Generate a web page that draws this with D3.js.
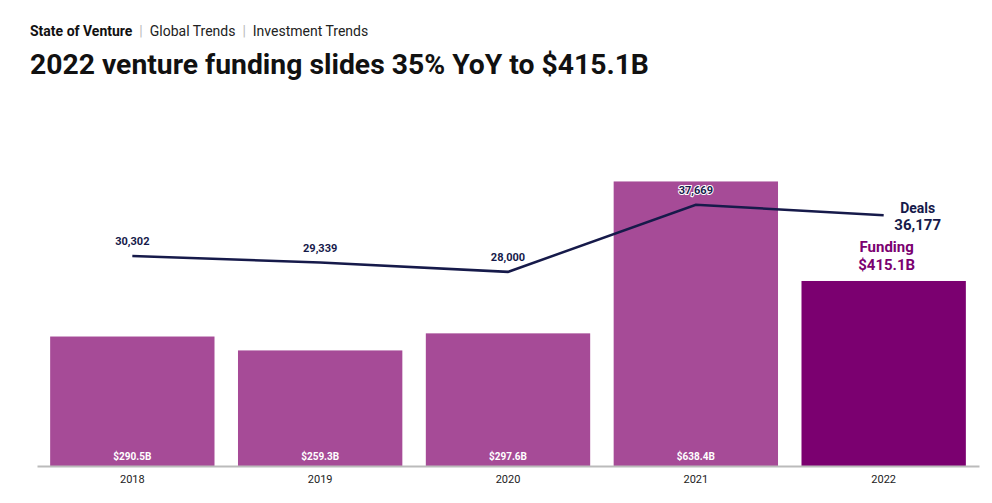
<!DOCTYPE html>
<html>
<head>
<meta charset="utf-8">
<script src="https://cdn.jsdelivr.net/npm/d3@7"></script>
<style>
  body { margin: 0; background: #fff; }
  svg text { font-family: Roboto, "Noto Sans", sans-serif; }
</style>
</head>
<body>
<div id="chart"></div>
<script>
var years = ["2018", "2019", "2020", "2021", "2022"];
var funding = [290.5, 259.3, 297.6, 638.4, 415.1];
var fundingLabels = ["$290.5B", "$259.3B", "$297.6B", "$638.4B", "$415.1B"];
var deals = [30302, 29339, 28000, 37669, 36177];

var width = 992, height = 503;
var svg = d3.select("#chart").append("svg")
    .attr("width", width).attr("height", height);

// header
var head = svg.append("text").attr("x", 30).attr("y", 36)
    .style("font-size", "14px").style("white-space", "pre").attr("fill", "#222");
head.append("tspan").attr("font-weight", "bold").attr("fill", "#111").text("State of Venture");
head.append("tspan").attr("fill", "#bbb").text("  |  ");
head.append("tspan").text("Global Trends");
head.append("tspan").attr("fill", "#bbb").text("  |  ");
head.append("tspan").text("Investment Trends");

svg.append("text").attr("x", 30).attr("y", 74)
    .style("font-size", "28.3px").attr("font-weight", "bold").attr("fill", "#111")
    .text("2022 venture funding slides 35% YoY to $415.1B");

var baseY = 466, topY = 154;
var x = d3.scaleBand().domain(years).range([37, 979]).paddingInner(0.125).paddingOuter(0.07);
var y = d3.scaleLinear().domain([0, 700]).range([baseY, topY]);
var y2 = d3.scaleLinear().domain([0, 45000]).range([baseY, topY]);

var data = years.map(function(d, i) {
  return {year: d, f: funding[i], fl: fundingLabels[i], n: deals[i]};
});

svg.selectAll("rect.bar").data(data).enter().append("rect")
    .attr("class", "bar")
    .attr("x", function(d) { return x(d.year); })
    .attr("width", x.bandwidth())
    .attr("y", function(d) { return y(d.f); })
    .attr("height", function(d) { return baseY - y(d.f); })
    .attr("fill", function(d, i) { return i == 4 ? "#7b0070" : "#a64b97"; });

// funding labels inside bars (not for 2022)
svg.selectAll("text.flab").data(data.slice(0, 4)).enter().append("text")
    .attr("class", "flab")
    .attr("x", function(d) { return x(d.year) + x.bandwidth() / 2; })
    .attr("y", baseY - 6)
    .attr("text-anchor", "middle")
    .attr("fill", "#fff").attr("font-weight", "bold")
    .style("font-size", "10px")
    .text(function(d) { return d.fl; });

// x axis
var xAxis = svg.append("g").attr("transform", "translate(0," + baseY + ")")
    .call(d3.axisBottom(x).tickSize(0).tickPadding(9));
xAxis.select(".domain").attr("stroke", "#bbb").attr("stroke-width", 2);
xAxis.selectAll("text").style("font-size", "11px").attr("fill", "#222")
    .style("font-family", "Roboto, sans-serif");

// deals line
var line = d3.line()
    .x(function(d) { return x(d.year) + x.bandwidth() / 2; })
    .y(function(d) { return y2(d.n); });
svg.append("path").datum(data)
    .attr("d", line).attr("fill", "none")
    .attr("stroke", "#161a4a").attr("stroke-width", 2.5);

svg.selectAll("text.dlab").data(data.slice(0, 4)).enter().append("text")
    .attr("class", "dlab")
    .attr("x", function(d) { return x(d.year) + x.bandwidth() / 2; })
    .attr("y", function(d) { return y2(d.n) - 11; })
    .attr("text-anchor", "middle")
    .attr("fill", "#161a4a").attr("font-weight", "bold")
    .attr("stroke", function(d, i) { return i == 3 ? "#fff" : "none"; })
    .attr("stroke-width", 2).attr("paint-order", "stroke")
    .style("font-size", "11px")
    .text(function(d) { return d3.format(",")(d.n); });

// end labels for 2022
var last = data[4];
var lx = x(last.year) + x.bandwidth() / 2;
svg.append("text").attr("x", lx + 34).attr("y", y2(last.n) - 2)
    .attr("text-anchor", "middle").attr("fill", "#161a4a").attr("font-weight", "bold")
    .style("font-size", "14px").text("Deals");
svg.append("text").attr("x", lx + 34).attr("y", y2(last.n) + 15)
    .attr("text-anchor", "middle").attr("fill", "#161a4a").attr("font-weight", "bold")
    .style("font-size", "15px").text(d3.format(",")(last.n));
svg.append("text").attr("x", lx + 3).attr("y", y(last.f) - 29)
    .attr("text-anchor", "middle").attr("fill", "#7b0070").attr("font-weight", "bold")
    .style("font-size", "15px").text("Funding");
svg.append("text").attr("x", lx + 3).attr("y", y(last.f) - 11)
    .attr("text-anchor", "middle").attr("fill", "#7b0070").attr("font-weight", "bold")
    .style("font-size", "15px").text(last.fl);
</script>
</body>
</html>
